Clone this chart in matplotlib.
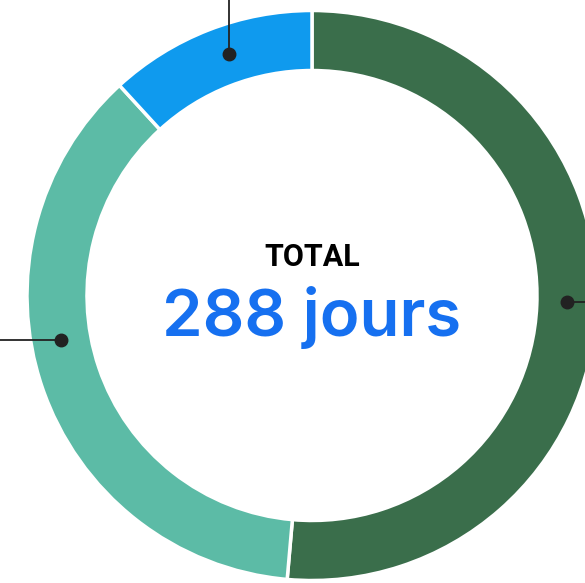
import numpy as np
import matplotlib.pyplot as plt

# Donnees (jours)
categories = ['Catégorie A', 'Catégorie B', 'Catégorie C']
jours = [148, 106, 34]
couleurs = ['#3a6e4b', '#5cbba6', '#0f9aee']
total = sum(jours)

# Position des pastilles (degres, sens horaire depuis le haut) et direction du trait
angles_pastille = [91.5, 260, 341]
directions = ['right', 'left', 'up']

W, H = 585, 583
cx, cy = 312, 287.5
r_ext = 285
epaisseur = 60

fig = plt.figure(figsize=(W / 100, H / 100), dpi=100)
ax = fig.add_axes([0, 0, 1, 1])

ax.pie(jours, colors=couleurs, startangle=90, counterclock=False,
       radius=r_ext, center=(cx, cy),
       wedgeprops=dict(width=epaisseur, edgecolor='white', linewidth=2.5))

# Pastilles et traits de rappel
r_mid = r_ext - epaisseur / 2
for ang, d in zip(angles_pastille, directions):
    t = np.radians(ang)
    x = cx + r_mid * np.sin(t)
    y = cy + r_mid * np.cos(t)
    if d == 'right':
        ax.plot([x, W], [y, y], color='#222222', lw=1.3, zorder=3)
    elif d == 'left':
        ax.plot([0, x], [y, y], color='#222222', lw=1.3, zorder=3)
    else:
        ax.plot([x, x], [y, H], color='#222222', lw=1.3, zorder=3)
    ax.plot(x, y, 'o', color='#222222', ms=9, zorder=4)

# Texte central
ax.text(cx, 317, 'TOTAL', ha='center', va='baseline',
        fontsize=22, fontweight='bold', family='Roboto', color='black')
ax.text(cx, 247, f'{total} jours', ha='center', va='baseline',
        fontsize=47, fontweight='semibold', family='Inter', color='#1670f0')

ax.set_xlim(0, W)
ax.set_ylim(0, H)
ax.set_aspect('equal')
ax.axis('off')

plt.savefig('out.png', dpi=100)
